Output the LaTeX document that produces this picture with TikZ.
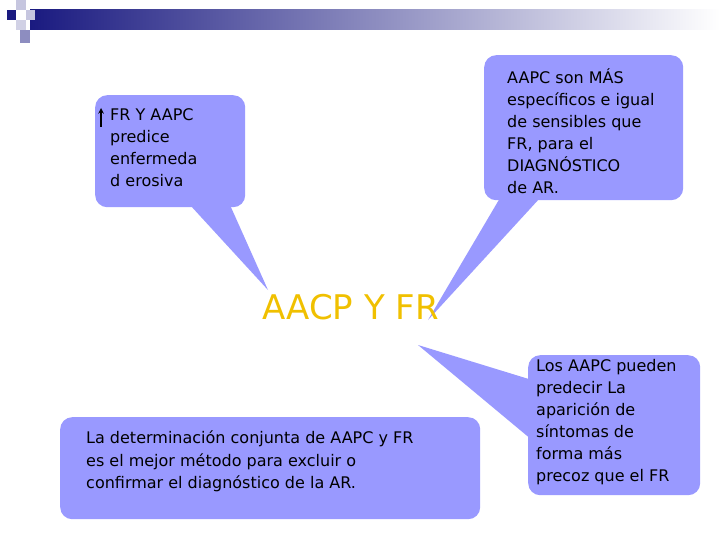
\documentclass[tikz,border=0pt]{standalone}
\usepackage{fontspec}
\setmainfont{DejaVu Sans}
\begin{document}
\begin{tikzpicture}[x=1pt,y=-1pt,
  bub/.style={fill=bubc,draw=none,rounded corners=12pt},
  txt/.style={font=\fontsize{16}{22}\selectfont,align=left,anchor=north west,inner sep=0pt}]
\definecolor{bubc}{HTML}{9999FF}
\definecolor{navy}{HTML}{1A1A80}
\definecolor{gold}{HTML}{F0C000}
\useasboundingbox (0,0) rectangle (720,540);
% banner
\shade[left color=navy,right color=white] (30,10) rectangle (720,30);
\fill[navy] (7,10) rectangle (16,20);
\fill[navy!25] (16,0) rectangle (26,10);
\fill[navy!25] (26,10) rectangle (35,20);
\fill[navy!20] (16,20) rectangle (26,30);
\fill[navy!50] (20,30) rectangle (30,43);
% callouts
\fill[bubc] (190,205) -- (268,290) -- (230,205) -- cycle;
\fill[bubc] (500,198) -- (428,320) -- (540,198) -- cycle;
\fill[bubc] (532,380) -- (418,345) -- (532,440) -- cycle;
\node[bub,minimum width=150pt,minimum height=112pt,anchor=north west] (b1) at (95,95) {};
\node[bub,minimum width=199pt,minimum height=145pt,anchor=north west] (b2) at (484,55) {};
\node[bub,minimum width=420pt,minimum height=102pt,anchor=north west] (b3) at (60,417) {};
\node[bub,minimum width=172pt,minimum height=140pt,anchor=north west] (b4) at (528,355) {};
\node[txt] (t1) at (110,108) {FR Y AAPC\\predice\\enfermeda\\d erosiva};
\draw[line width=1.5pt,-stealth] (101,127) -- (101,108);
\node[txt] (t2) at (507,68) {AAPC son MÁS\\específicos e igual\\de sensibles que\\FR, para el\\DIAGNÓSTICO\\de AR.};
\node[txt] (t3) at (86,431) {La determinación conjunta de AAPC y FR\\es el mejor método para excluir o\\confirmar el diagnóstico de la AR.};
\node[txt] (t4) at (536,359) {Los AAPC pueden\\predecir La\\aparición de\\síntomas de\\forma más\\precoz que el FR};
\node[font=\fontsize{34}{38}\selectfont,text=gold,draw=none,anchor=west,inner sep=0pt] (ti) at (262,307) {AACP Y FR};
\end{tikzpicture}
\end{document}
